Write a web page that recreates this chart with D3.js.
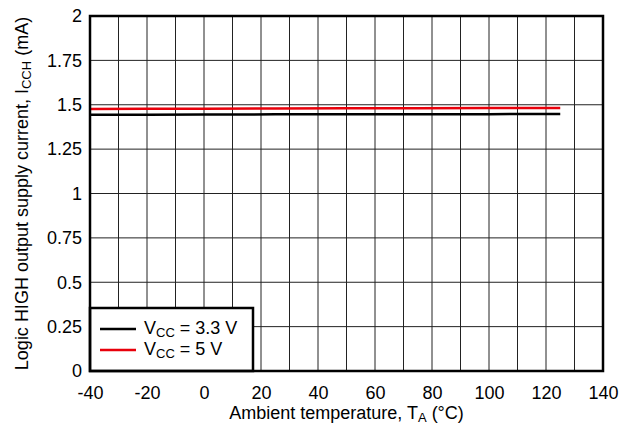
<!DOCTYPE html>
<html>
<head>
<meta charset="utf-8">
<script src="https://cdn.jsdelivr.net/npm/d3@7"></script>
<style>
  body { margin: 0; background: #fff; }
  svg text { font-family: "Liberation Sans", Arial, sans-serif; fill: #000; }
</style>
</head>
<body>
<svg width="632" height="425"></svg>
<script>
// data
const temps = [-40, -20, 0, 25, 50, 75, 100, 125];
const icc33 = [1.443, 1.444, 1.445, 1.446, 1.446, 1.447, 1.447, 1.448];
const icc5 = [1.476, 1.477, 1.478, 1.479, 1.480, 1.480, 1.481, 1.482];
const xTicks = [-40, -20, 0, 20, 40, 60, 80, 100, 120, 140];
const yTicks = [0, 0.25, 0.5, 0.75, 1, 1.25, 1.5, 1.75, 2];
const series = [
  { name: "3.3 V", values: icc33, color: "#000" },
  { name: "5 V", values: icc5, color: "#e8000b" }
];

// layout
const margin = { top: 16, right: 29, bottom: 54, left: 90 };
const width = 632 - margin.left - margin.right;
const height = 425 - margin.top - margin.bottom;
const fs = 18, sub = 13;

const svg = d3.select("svg")
  .append("g")
  .attr("transform", `translate(${margin.left},${margin.top})`);

// scales
const x = d3.scaleLinear().domain([-40, 140]).range([0, width]);
const y = d3.scaleLinear().domain([0, 2]).range([height, 0]);

// grid (every 10 deg, every 0.25 mA)
svg.append("g")
  .selectAll("line")
  .data(d3.range(-30, 140, 10))
  .enter().append("line")
  .attr("x1", d => x(d)).attr("x2", d => x(d))
  .attr("y1", 0).attr("y2", height)
  .attr("stroke", "#222").attr("stroke-width", 1);

svg.append("g")
  .selectAll("line")
  .data(yTicks.slice(1, -1))
  .enter().append("line")
  .attr("x1", 0).attr("x2", width)
  .attr("y1", d => y(d)).attr("y2", d => y(d))
  .attr("stroke", "#222").attr("stroke-width", 1);

// axes (labels only)
const xAxis = svg.append("g")
  .attr("transform", `translate(0,${height})`)
  .call(d3.axisBottom(x).tickValues(xTicks).tickSize(0).tickPadding(15).tickFormat(d => String(d)));
xAxis.select(".domain").remove();
xAxis.selectAll("text").attr("font-size", fs).attr("font-family", "Liberation Sans, Arial, sans-serif");

const yAxis = svg.append("g")
  .call(d3.axisLeft(y).tickValues(yTicks).tickSize(0).tickPadding(8).tickFormat(d => String(d)));
yAxis.select(".domain").remove();
yAxis.selectAll("text").attr("font-size", fs).attr("font-family", "Liberation Sans, Arial, sans-serif");

// lines
const line = d3.line()
  .x((d, i) => x(temps[i]))
  .y(d => y(d));

svg.selectAll(".series")
  .data(series)
  .enter().append("path")
  .attr("class", "series")
  .attr("fill", "none")
  .attr("stroke", d => d.color)
  .attr("stroke-width", 2.5)
  .attr("d", d => line(d.values));

// legend box
const legW = 163, legH = 63;
const leg = svg.append("g").attr("transform", `translate(0,${height - legH})`);
leg.append("rect")
  .attr("width", legW).attr("height", legH)
  .attr("fill", "#fff").attr("stroke", "#000").attr("stroke-width", 2.5);

series.forEach((s, i) => {
  const ly = 21 + i * 21;
  leg.append("line")
    .attr("x1", 10).attr("x2", 46)
    .attr("y1", ly).attr("y2", ly)
    .attr("stroke", s.color).attr("stroke-width", 2.5);
  const t = leg.append("text")
    .attr("x", 54).attr("y", ly + 5)
    .attr("font-size", fs);
  t.append("tspan").text("V");
  t.append("tspan").attr("font-size", sub).attr("dy", 3).text("CC");
  t.append("tspan").attr("dy", -3).text(" = " + s.name);
});

// frame
svg.append("rect")
  .attr("width", width).attr("height", height)
  .attr("fill", "none").attr("stroke", "#000").attr("stroke-width", 2.5);

// axis titles
const xt = svg.append("text")
  .attr("x", width / 2).attr("y", height + 48)
  .attr("text-anchor", "middle").attr("font-size", fs);
xt.append("tspan").text("Ambient temperature, T");
xt.append("tspan").attr("font-size", sub).attr("dy", 3).text("A");
xt.append("tspan").attr("dy", -3).text(" (°C)");

const yt = svg.append("text")
  .attr("transform", `translate(${-62},${height / 2}) rotate(-90)`)
  .attr("text-anchor", "middle").attr("font-size", fs);
yt.append("tspan").text("Logic HIGH output supply current, I");
yt.append("tspan").attr("font-size", sub).attr("dy", 3).text("CCH");
yt.append("tspan").attr("dy", -3).text(" (mA)");
</script>
</body>
</html>
